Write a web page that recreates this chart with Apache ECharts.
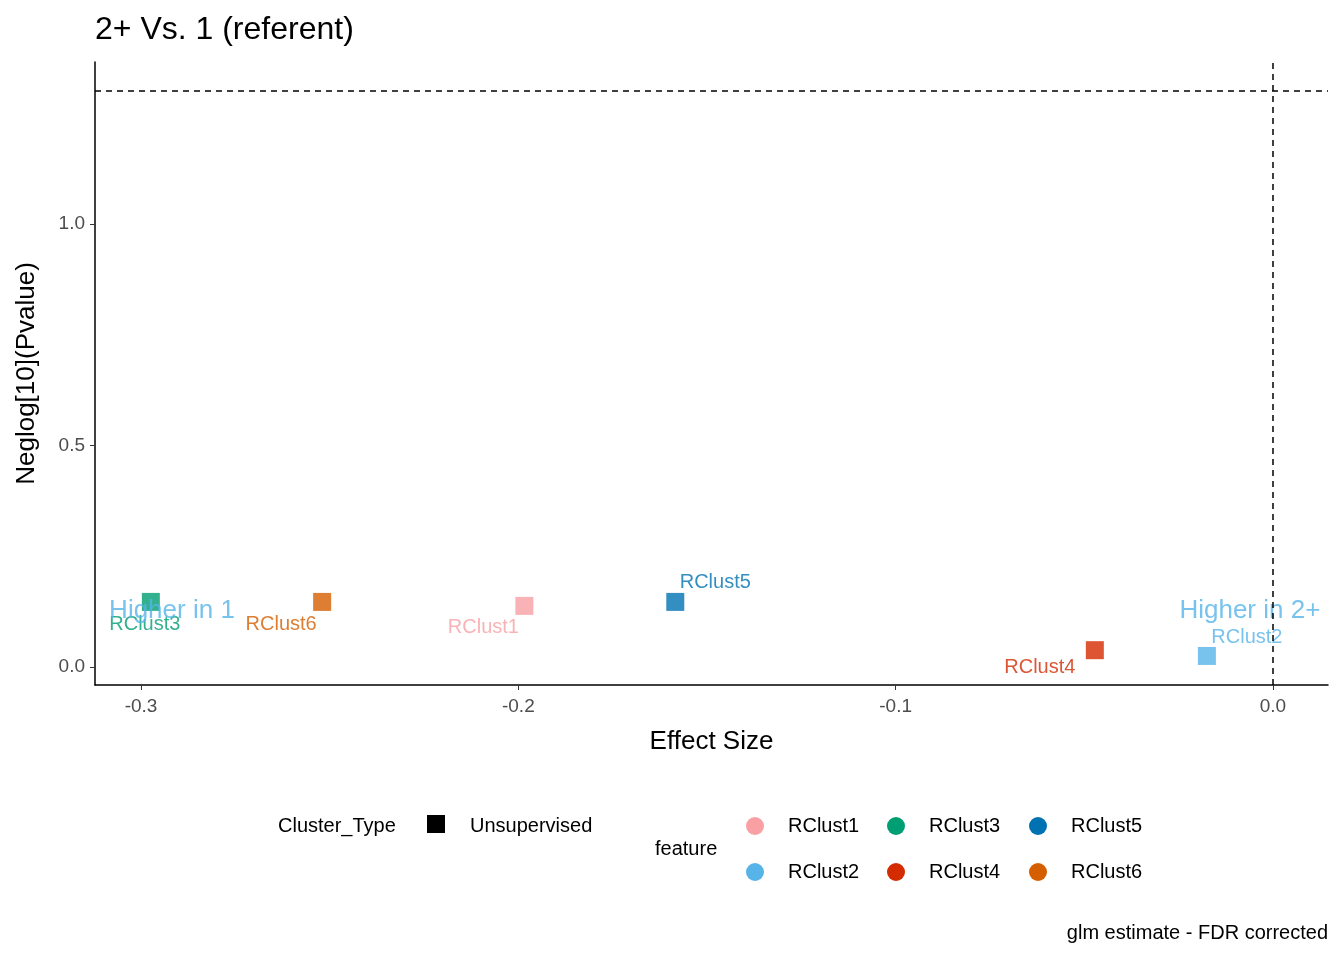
<!DOCTYPE html>
<html><head><meta charset="utf-8">
<script src="https://cdn.jsdelivr.net/npm/echarts@6/dist/echarts.min.js"></script>
<style>html,body{margin:0;padding:0;background:#fff}#chart{width:1344px;height:960px}</style>
</head><body><div id="chart"></div>
<script>
const features = ['RClust1','RClust2','RClust3','RClust4','RClust5','RClust6']
const effect = [-0.1984, -0.0175, -0.2974, -0.0472, -0.1584, -0.252]
const neglogP = [0.138, 0.025, 0.147, 0.038, 0.147, 0.147]
const colors = ['#F8A0A4','#56B4E9','#009E73','#D52B00','#0072B2','#D55E00']
const labelOffsets = [[-41,22],[40,-18],[-6,23],[-55,17],[40,-19],[-41,23]]
const xTicks = [-0.3,-0.2,-0.1,0.0]
const yTicks = [0.0,0.5,1.0]
const threshold = 1.301

const font = 'Liberation Sans, Arial, sans-serif'
const chart = echarts.init(document.getElementById('chart'))

const series = features.map((f,i)=>({
  name: f, type: 'scatter', symbol: 'rect', symbolSize: 18,
  itemStyle: {color: colors[i]},
  label: {show: true, formatter: f, position: 'inside', offset: labelOffsets[i],
    color: colors[i], fontSize: 20, fontFamily: font},
  data: [[effect[i], neglogP[i]]],
  z: 3
}))

series.push({
  type: 'scatter', symbolSize: 0, silent: true,
  label: {show: true, formatter: p=>p.data[2], position: 'inside',
    color: '#56B4E9', fontSize: 26, fontFamily: font},
  data: [[-0.2918,0.126,'Higher in 1'],[-0.0061,0.126,'Higher in 2+']],
  markLine: {
    silent: true, symbol: 'none', label: {show: false},
    lineStyle: {color: '#000', type: [6,5], width: 1.5},
    data: [{yAxis: threshold}, {xAxis: 0}]
  },
  z: 4
})

const legendItems = []
const lx = [755, 896, 1038], ly = [826, 872]
features.forEach((f,i)=>{
  const cx = lx[Math.floor(i/2)], cy = ly[i%2]
  legendItems.push({type:'circle', shape:{cx, cy, r:9}, style:{fill: colors[i]}})
  legendItems.push({type:'text', x: cx+33, y: cy, style:{text: f, font:`20px ${font}`, fill:'#000', textVerticalAlign:'middle'}})
})
legendItems.push(
  {type:'text', x:278, y:826, style:{text:'Cluster_Type', font:`20px ${font}`, fill:'#000', textVerticalAlign:'middle'}},
  {type:'rect', shape:{x:427, y:815, width:18, height:18}, style:{fill:'#000'}},
  {type:'text', x:470, y:826, style:{text:'Unsupervised', font:`20px ${font}`, fill:'#000', textVerticalAlign:'middle'}},
  {type:'text', x:655, y:849, style:{text:'feature', font:`20px ${font}`, fill:'#000', textVerticalAlign:'middle'}},
  {type:'text', x:1328, y:933, style:{text:'glm estimate - FDR corrected', font:`20px ${font}`, fill:'#000', textAlign:'right', textVerticalAlign:'middle'}},
  {type:'text', x:95, y:30, style:{text:'2+ Vs. 1 (referent)', font:`32px ${font}`, fill:'#000', textVerticalAlign:'middle'}}
)

chart.setOption({
  animation: false,
  grid: {left: 95, right: 16, top: 62, bottom: 275},
  xAxis: {
    type: 'value', min: -0.3122, max: 0.0146,
    name: 'Effect Size', nameLocation: 'middle', nameGap: 44,
    nameTextStyle: {fontSize: 26, color: '#000', fontFamily: font},
    axisLine: {onZero: false, lineStyle: {color: '#000', width: 1.5}},
    axisTick: {show: true, length: 5, lineStyle: {color: '#333'},
      customValues: xTicks},
    axisLabel: {fontSize: 19, color: '#4d4d4d', fontFamily: font, margin: 12,
      customValues: xTicks, formatter: v=>v.toFixed(1)},
    splitLine: {show: false}
  },
  yAxis: {
    type: 'value', min: -0.0406, max: 1.366,
    name: 'Neglog[10](Pvalue)', nameLocation: 'middle', nameGap: 55, nameRotate: 90,
    nameTextStyle: {fontSize: 26, color: '#000', fontFamily: font},
    axisLine: {show: true, onZero: false, lineStyle: {color: '#000', width: 1.5}},
    axisTick: {show: true, length: 5, lineStyle: {color: '#333'}, customValues: yTicks},
    axisLabel: {fontSize: 19, color: '#4d4d4d', fontFamily: font, margin: 10,
      customValues: yTicks, formatter: v=>v.toFixed(1)},
    splitLine: {show: false}
  },
  graphic: legendItems,
  series
})
window.addEventListener('resize', chart.resize)
</script></body></html>
